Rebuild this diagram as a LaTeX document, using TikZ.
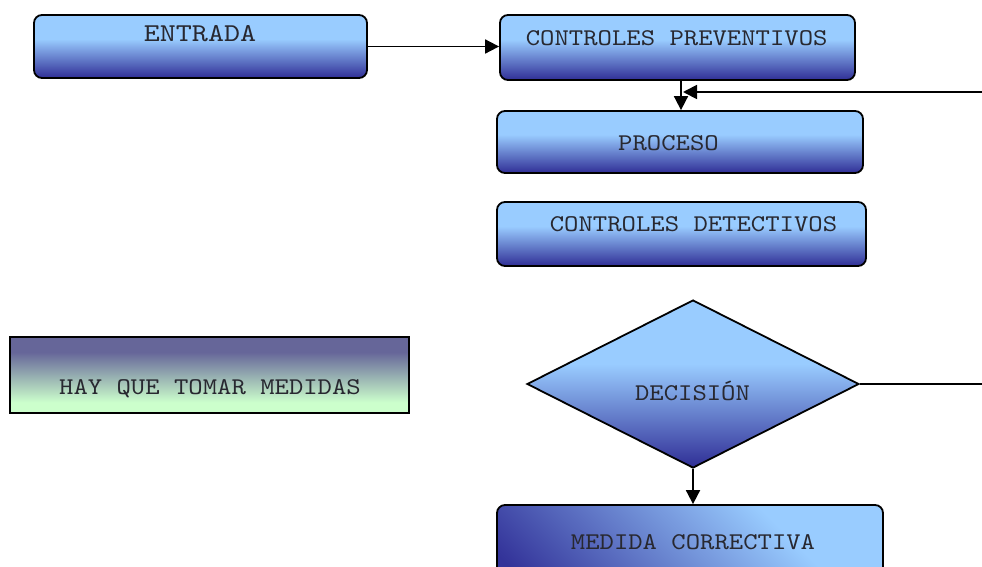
\documentclass[tikz,border=0pt]{standalone}
\usepackage{fontspec}
\newfontfamily\courfont{lmmono10-regular}[Extension=.otf, FakeStretch=1.14]
\newfontfamily\courwide{lmmono10-regular}[Extension=.otf, FakeStretch=1.19]
\usetikzlibrary{shapes.geometric,arrows.meta}
\definecolor{lightb}{RGB}{153,204,255}
\definecolor{darkb}{RGB}{51,51,153}
\definecolor{topv}{RGB}{102,102,153}
\definecolor{botg}{RGB}{204,255,204}
\definecolor{txt}{RGB}{40,40,48}
\pgfdeclareverticalshading{bluegrad}{100bp}{color(0bp)=(darkb); color(26bp)=(darkb); color(56bp)=(lightb); color(100bp)=(lightb)}
\pgfdeclareverticalshading{medgrad}{100bp}{color(0bp)=(darkb); color(18bp)=(darkb); color(66bp)=(lightb); color(100bp)=(lightb)}
\pgfdeclareverticalshading{greengrad}{100bp}{color(0bp)=(botg); color(32bp)=(botg); color(65bp)=(topv); color(100bp)=(topv)}
\tikzset{
  rbox/.style={draw=black, line width=1.8pt, rounded corners=8pt, shade, shading=bluegrad, inner sep=0pt},
  lbl/.style={anchor=base, text=txt, font=\courfont\fontsize{24}{28}\selectfont, inner sep=0pt},
  arr/.style={line width=1.8pt, -{Triangle[length=14pt,width=14pt]}},
  ln/.style={line width=1.8pt}
}
\begin{document}
\begin{tikzpicture}[x=1pt,y=-1pt]
\useasboundingbox (0,0) rectangle (982,566);
\clip (0,0) rectangle (982,566);
% boxes
\node[rbox, minimum width=333pt, minimum height=63pt] (entrada) at (200.5,46.5) {};
\node[rbox, minimum width=355pt, minimum height=65pt] (prev) at (677.5,47.5) {};
\node[rbox, minimum width=366pt, minimum height=62pt] (proc) at (680,142) {};
\node[rbox, minimum width=369pt, minimum height=64pt] (det) at (681.5,234) {};
\node[draw=black, line width=1.8pt, shade, shading=greengrad, inner sep=0pt, minimum width=399pt, minimum height=76pt] (hay) at (209.5,375) {};
\node[diamond, draw=black, line width=1.8pt, shade, shading=bluegrad, inner sep=0pt, minimum width=332pt, minimum height=168pt] (dec) at (693,384) {};
\node[rbox, shading=medgrad, shading angle=-45, minimum width=386pt, minimum height=72pt] (med) at (690,541) {};
% texts
\node[lbl, font=\courwide\fontsize{25.7}{30}\selectfont] (tentrada) at (200,41) {ENTRADA};
\node[lbl] (tprev) at (676.7,45.7) {CONTROLES PREVENTIVOS};
\node[lbl] (tproc) at (668.5,150.5) {PROCESO};
\node[lbl] (tdet) at (693.5,231.5) {CONTROLES DETECTIVOS};
\node[lbl] (thay) at (210,394) {HAY QUE TOMAR MEDIDAS};
\node[lbl] (tdec) at (692.5,400) {DECISIÓN};
\node[lbl] (tmed) at (693,549) {MEDIDA CORRECTIVA};
% connectors
\coordinate (fb) at (982,92);
\coordinate (fbend) at (683,92);
\coordinate (decout) at (982,384);
\draw[arr] (entrada.east) -- (entrada.east -| prev.west);
\draw[arr] ([xshift=3.5pt]prev.south) -- ([xshift=3.5pt]prev.south |- proc.north);
\draw[arr] (fb) -- (fbend);
\draw[ln] (dec.east) -- (decout);
\draw[arr] (dec.south) -- (med.north -| dec.south);
\end{tikzpicture}
\end{document}
